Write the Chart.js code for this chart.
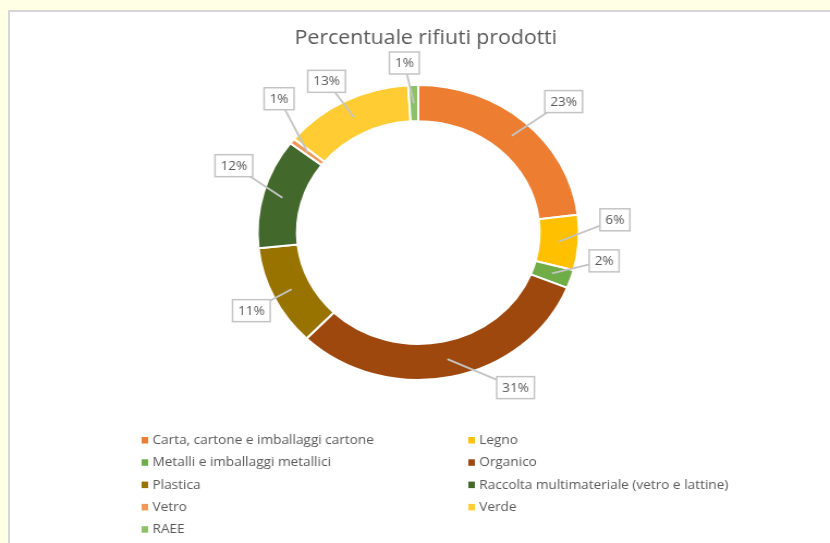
<!DOCTYPE html>
<html>
<head>
<meta charset="utf-8">
<script src="https://cdn.jsdelivr.net/npm/chart.js@4"></script>
<style>
html, body { margin: 0; padding: 0; background: #FFFFE6; width: 830px; height: 543px; overflow: hidden; }
#pannello { position: absolute; left: 8px; top: 10px; width: 830px; height: 540px; background: #fff;
  border-left: 2px solid #D6D6D6; border-top: 2px solid #D6D6D6; }
#contenitore { position: absolute; left: 0; top: 0; width: 762px; height: 543px;
  transform: scaleX(1.0892); transform-origin: 0 0; }
</style>
</head>
<body>
<div id="pannello"></div>
<div id="contenitore"><canvas id="graficoRifiuti" width="762" height="543"></canvas></div>
<script>
// Dati
const titolo = 'Percentuale rifiuti prodotti';
const categorie = [
    'Carta, cartone e imballaggi cartone',
    'Legno',
    'Metalli e imballaggi metallici',
    'Organico',
    'Plastica',
    'Raccolta multimateriale (vetro e lattine)',
    'Vetro',
    'Verde',
    'RAEE'
];
const percentuali = [23, 6, 2, 31, 11, 12, 0.6, 13, 1];
const colori = ['#ED7D31', '#FFC000', '#70AD47', '#9E480E', '#997300', '#43682B', '#F1975A', '#FFCD33', '#8CC168'];

// Posizione delle etichette (scostamento angolare in gradi e distanza dal centro)
const etichettaAngolo = [4, -8, -9, -18, -1, 6, 8, -2, -2.5];
const etichettaDistanza = [187, 181, 173, 179, 172, 182, 185, 173, 170];

const FONT = '"Open Sans", "Liberation Sans", sans-serif';

// Titolo (leggermente spostato a destra rispetto al centro del grafico)
const intestazione = {
    id: 'intestazione',
    afterDraw(chart) {
        const ctx = chart.ctx;
        ctx.save();
        ctx.font = '19.5px ' + FONT;
        ctx.fillStyle = '#595959';
        ctx.textAlign = 'center';
        ctx.textBaseline = 'middle';
        ctx.fillText(titolo, chart.width / 2 + 10, 38);
        ctx.restore();
    }
};

// Etichette con riquadro e linea di richiamo
const richiami = {
    id: 'richiami',
    afterDatasetsDraw(chart) {
        const ctx = chart.ctx;
        const meta = chart.getDatasetMeta(0);
        ctx.save();
        ctx.font = '12.5px ' + FONT;
        meta.data.forEach((arc, i) => {
            const p = arc.getProps(['x', 'y', 'startAngle', 'endAngle', 'innerRadius', 'outerRadius'], true);
            const medio = (p.startAngle + p.endAngle) / 2;
            const rMedio = (p.innerRadius + p.outerRadius) / 2;
            const ax = p.x + Math.cos(medio) * rMedio;
            const ay = p.y + Math.sin(medio) * rMedio;
            const a = medio + etichettaAngolo[i] * Math.PI / 180;
            const lx = p.x + Math.cos(a) * etichettaDistanza[i];
            const ly = p.y + Math.sin(a) * etichettaDistanza[i];
            const testo = Math.round(percentuali[i]) + '%';
            const w = ctx.measureText(testo).width + 10;
            const h = 22;

            ctx.strokeStyle = '#C4C4C4';
            ctx.lineWidth = 1.8;
            ctx.beginPath();
            ctx.moveTo(lx, ly);
            ctx.lineTo(ax, ay);
            ctx.stroke();

            ctx.fillStyle = '#fff';
            ctx.fillRect(lx - w / 2, ly - h / 2, w, h);
            ctx.lineWidth = 1.5;
            ctx.strokeRect(lx - w / 2, ly - h / 2, w, h);

            ctx.fillStyle = '#595959';
            ctx.textAlign = 'center';
            ctx.textBaseline = 'middle';
            ctx.fillText(testo, lx, ly + 0.5);
        });
        ctx.restore();
    }
};

// Legenda su due colonne
const legenda = {
    id: 'legenda',
    afterDraw(chart) {
        const ctx = chart.ctx;
        ctx.save();
        ctx.font = '12.5px ' + FONT;
        ctx.textAlign = 'left';
        ctx.textBaseline = 'middle';
        categorie.forEach((nome, i) => {
            const col = i % 2;
            const riga = Math.floor(i / 2);
            const x = 130 + col * 300;
            const y = 440 + riga * 22.3;
            ctx.fillStyle = colori[i];
            ctx.fillRect(x, y - 3, 6, 6.5);
            ctx.fillStyle = '#595959';
            ctx.fillText(nome, x + 10, y + 0.5);
        });
        ctx.restore();
    }
};

const ctx = document.getElementById('graficoRifiuti').getContext('2d');

const grafico = new Chart(ctx, {
    type: 'doughnut',
    data: {
        labels: categorie,
        datasets: [{
            data: percentuali,
            backgroundColor: colori,
            borderColor: '#ffffff',
            borderWidth: 2,
            hoverOffset: 0
        }]
    },
    options: {
        responsive: false,
        animation: false,
        cutout: '75.5%',
        layout: {
            padding: { left: 6, top: 84, bottom: 162 }
        },
        plugins: {
            legend: { display: false },
            tooltip: { enabled: false },
            title: { display: false }
        }
    },
    plugins: [intestazione, richiami, legenda]
});
</script>
</body>
</html>
